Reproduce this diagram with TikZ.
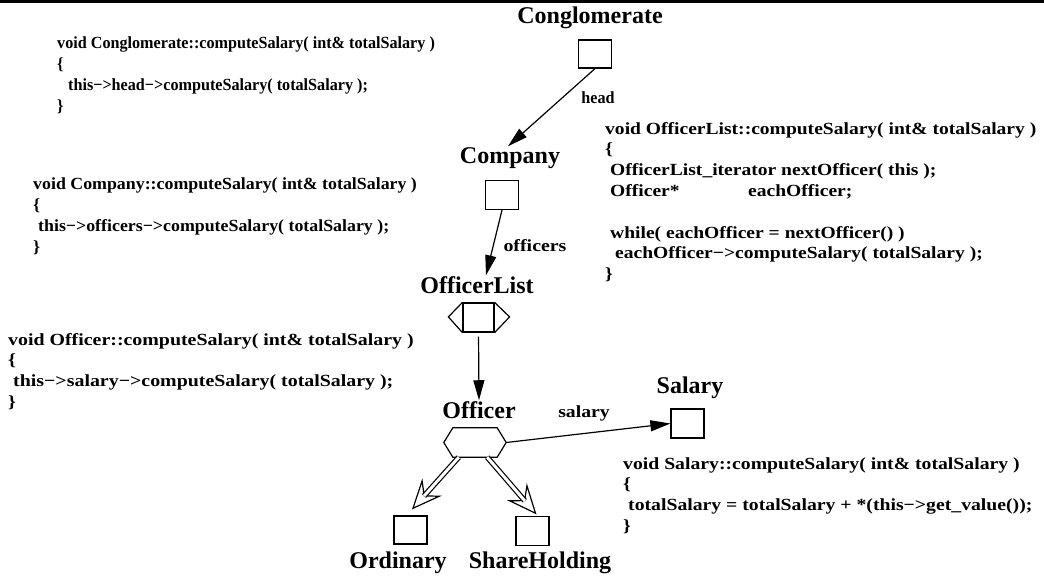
\documentclass[tikz,border=0pt]{standalone}
\usepackage{fontspec}
\setmainfont{Liberation Serif}
\newfontfamily\congfont{Liberation Serif}[FakeStretch=0.95]
\newfontfamily\compfont{Liberation Serif}[FakeStretch=1.05]
\newfontfamily\olistfont{Liberation Serif}[FakeStretch=1.15]
\newfontfamily\offfont{Liberation Serif}[FakeStretch=1.17]
\newfontfamily\salfont{Liberation Serif}[FakeStretch=1.16]
\usetikzlibrary{arrows.meta, positioning}

\begin{document}
\begin{tikzpicture}[x=1pt, y=-1pt,
  cls/.style={draw, line width=1.2pt, minimum width=33pt, minimum height=28pt, inner sep=0pt},
  lbl/.style={font=\fontsize{24}{28}\selectfont\bfseries, inner sep=1pt},
  role/.style={font=#1\fontsize{17}{19}\selectfont\bfseries, inner sep=1pt},
  code/.style={font=#1\fontsize{17}{20.8}\selectfont\bfseries, align=left, anchor=north west, inner sep=0pt},
  arr/.style={line width=1.2pt, -{Triangle[length=20pt, width=11pt]}},
  isahead/.style={line width=1.2pt, -{Stealth[open, fill=white, length=30pt, width=26pt, inset=11pt]}},
  isashaft/.style={double, double distance=3pt, line width=1.2pt, shorten >=18pt}]
\useasboundingbox (0,0) rectangle (1044,578);
\fill (0,0) rectangle (1044,3.5);

% Conglomerate
\node[cls] (cong) at (595,54) {};
\node[lbl] (conglbl) at (590,18) {Conglomerate};
\node[code=\congfont] (congcode) at (57,37) {void Conglomerate::computeSalary( int\& totalSalary )\\
\{\\
\hspace*{11pt}this−>head−>computeSalary( totalSalary );\\
\}};

% Company
\node[cls, minimum height=29pt] (comp) at (502,195) {};
\node[lbl] (complbl) at (510,158) {Company};
\node[code=\compfont] (compcode) at (33,178) {void Company::computeSalary( int\& totalSalary )\\
\{\\
\hspace*{5pt}this−>officers−>computeSalary( totalSalary );\\
\}};

% OfficerList
\node[cls, minimum width=31pt, minimum height=29pt] (olist) at (478.5,317.5) {};
\draw[line width=1.2pt] (olist.north west) -- ++(-14,14.5) -- (olist.south west);
\draw[line width=1.2pt] (olist.north east) -- ++(15,14.5) -- (olist.south east);
\node[lbl] (olistlbl) at (477,285) {OfficerList};
\node[code=\olistfont] (olistcode) at (605,122) {void OfficerList::computeSalary( int\& totalSalary )\\
\{\\
\hspace*{5pt}OfficerList\_iterator nextOfficer( this );\\
\hspace*{5pt}\makebox[138pt][l]{Officer*}eachOfficer;\\[20.8pt]
\hspace*{5pt}while( eachOfficer = nextOfficer() )\\
\hspace*{10pt}eachOfficer−>computeSalary( totalSalary );\\
\}};

% Officer
\node[minimum width=44pt, minimum height=29pt, inner sep=0pt] (officer) at (475,442.5) {};
\draw[line width=1.2pt] (officer.north west) -- (officer.north east) -- ([xshift=9pt]officer.east)
  -- (officer.south east) -- (officer.south west) -- ([xshift=-9pt]officer.west) -- cycle;
\coordinate (offtip) at ([xshift=9pt]officer.east);
\node[lbl] (offlbl) at (479,410) {Officer};
\node[code=\offfont] (offcode) at (8,333) {void Officer::computeSalary( int\& totalSalary )\\
\{\\
\hspace*{5pt}this−>salary−>computeSalary( totalSalary );\\
\}};

% Salary
\node[cls, minimum height=29pt] (salary) at (687.5,423.5) {};
\node[lbl] (sallbl) at (690,388) {Salary};
\node[code=\salfont] (salcode) at (623,457) {void Salary::computeSalary( int\& totalSalary )\\
\{\\
\hspace*{5pt}totalSalary = totalSalary + *(this−>get\_value());\\
\}};

% subclasses
\node[cls] (ord) at (410.5,530) {};
\node[lbl] (ordlbl) at (398,563) {Ordinary};
\node[cls, minimum height=29pt] (share) at (532.5,531) {};
\node[lbl] (sharelbl) at (540,563) {ShareHolding};

% links
\draw[arr] (cong.south) -- ([xshift=-2pt]complbl.north);
\node[role=\congfont] (headlbl) at (598,98) {head};
\draw[arr] (comp.south) -- ([xshift=9pt]olistlbl.north);
\node[role=\offfont] (officerslbl) at (535,246) {officers};
\draw[arr, shorten <=4pt] (olist.south) -- (offlbl.north);
\draw[arr] (offtip) -- (salary.west);
\node[role=\salfont] (salarylbl) at (584,413) {salary};
\draw[isahead] ([xshift=6pt]officer.south west) -- ([shift={(1.5pt,6pt)}]ord.north);
\draw[isashaft] ([xshift=6pt]officer.south west) -- ([shift={(1.5pt,6pt)}]ord.north);
\draw[isahead] ([xshift=-10pt]officer.south east) -- ([shift={(4pt,1.5pt)}]share.north);
\draw[isashaft] ([xshift=-10pt]officer.south east) -- ([shift={(4pt,1.5pt)}]share.north);
\end{tikzpicture}
\end{document}
